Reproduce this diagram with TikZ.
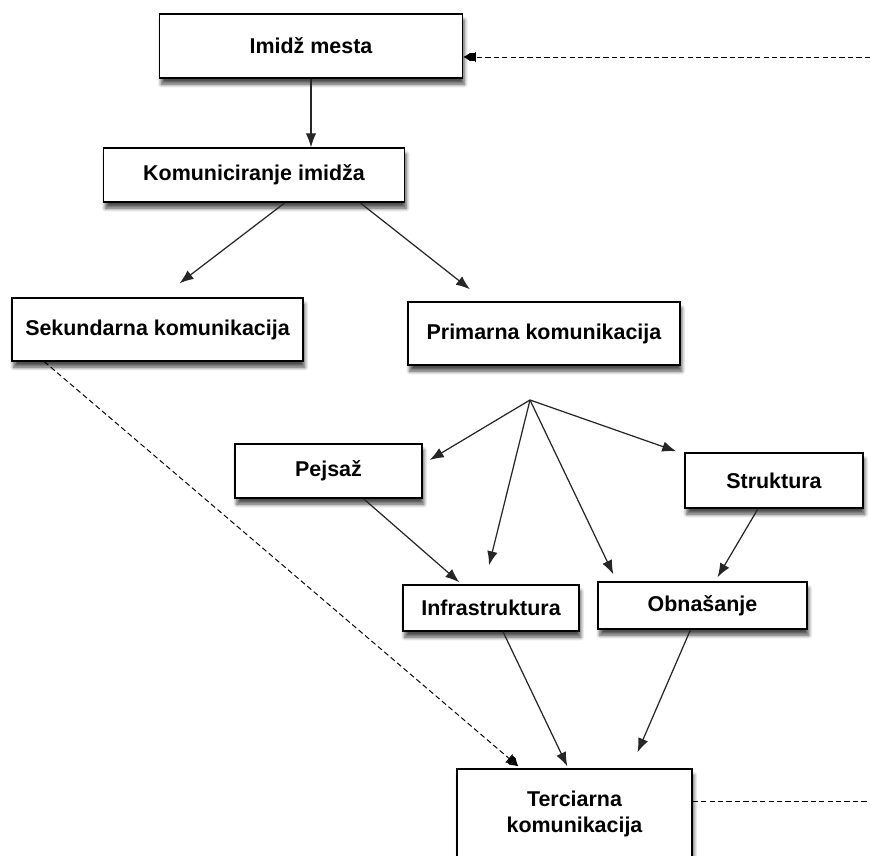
\documentclass[tikz,border=0pt]{standalone}
\usepackage{fontspec}
\setmainfont{Liberation Sans}
\usetikzlibrary{arrows.meta,calc,shadows.blur}

\begin{document}
\begin{tikzpicture}[x=0.02cm, y=-0.02cm,
  box/.style={rectangle, draw=black, line width=0.8pt, fill=white, align=center,
    font=\fontsize{12.2}{14.5}\selectfont\bfseries,
    blur shadow={shadow xshift=1pt, shadow yshift=-3.5pt, shadow blur steps=6, shadow opacity=70}},
  arr/.style={-{Latex[length=8pt,width=6pt]}, line width=0.7pt, draw=black!85},
  dasharr/.style={-{Bar[width=6pt] Rectangle[length=2.5pt,width=5pt] Latex[length=4pt,width=5pt]}, line width=0.55pt, dash pattern=on 3pt off 1.8pt},
  dashline/.style={line width=0.55pt, dash pattern=on 3pt off 1.8pt}]
  \useasboundingbox (0,0) rectangle (870,856);
  \clip (0,0) rectangle (870,856);

  % Nodes
  \node[box, minimum width=6.06cm, minimum height=1.28cm] (imidz) at (311,46) {Imidž mesta};
  \node[box, minimum width=6.02cm, minimum height=1.08cm] (komun) at (254,175) {Komuniciranje imidža};
  \node[box, minimum width=5.82cm, minimum height=1.26cm] (sekund) at (157.5,329.5) {Sekundarna komunikacija};
  \node[box, minimum width=5.44cm, minimum height=1.26cm] (primar) at (544,333.5) {Primarna komunikacija};
  \node[box, minimum width=3.74cm, minimum height=1.08cm] (pejsaz) at (328.5,471) {Pejsaž};
  \node[box, minimum width=3.56cm, minimum height=1.10cm] (strukt) at (774,480.5) {Struktura};
  \node[box, minimum width=3.52cm, minimum height=0.92cm] (infra) at (491,608) {Infrastruktura};
  \node[box, minimum width=4.18cm, minimum height=0.94cm] (obnas) at (702.5,605.5) {Obnašanje};
  \node[box, minimum width=4.70cm, minimum height=1.80cm] (terc) at (574.5,814) {Terciarna\\komunikacija};

  \coordinate (fan) at (530,400);
  \coordinate (rtop) at (870,57);
  \coordinate (rbot) at (870,801);

  % Edges
  \draw[arr] (imidz.south) -- (imidz.south |- komun.north);
  \draw[arr] ($(komun.south)+(31,0)$) -- ($(sekund.north)+(22,-14)$);
  \draw[arr] ($(komun.south)+(106,0)$) -- ($(primar.north)+(-74,-12)$);
  \draw[arr] (fan) -- ($(pejsaz.east)+(7,-11)$);
  \draw[arr] (fan) -- ($(infra.north)+(-2,-19)$);
  \draw[arr] (fan) -- ($(obnas.north west)+(16,-7)$);
  \draw[arr] (fan) -- ($(strukt.north west)+(-8,-1)$);
  \draw[arr] ($(pejsaz.south)+(35,0)$) -- ($(infra.north west)+(57,-2)$);
  \draw[arr] ($(strukt.south)+(-16,0)$) -- ($(obnas.north)+(15,-4)$);
  \draw[arr] ($(infra.south)+(12,0)$) -- ($(terc.north west)+(111,-2)$);
  \draw[arr] ($(obnas.south)+(-12,0)$) -- ($(terc.north)+(63,-16)$);

  % Dashed links
  \draw[dasharr] ($(sekund.south west)+(33,0)$) -- ($(terc.north west)+(62,-2)$);
  \draw[dasharr] (rtop) -- (imidz.east |- rtop);
  \draw[dashline] (terc.east |- rbot) -- (rbot);
\end{tikzpicture}
\end{document}
